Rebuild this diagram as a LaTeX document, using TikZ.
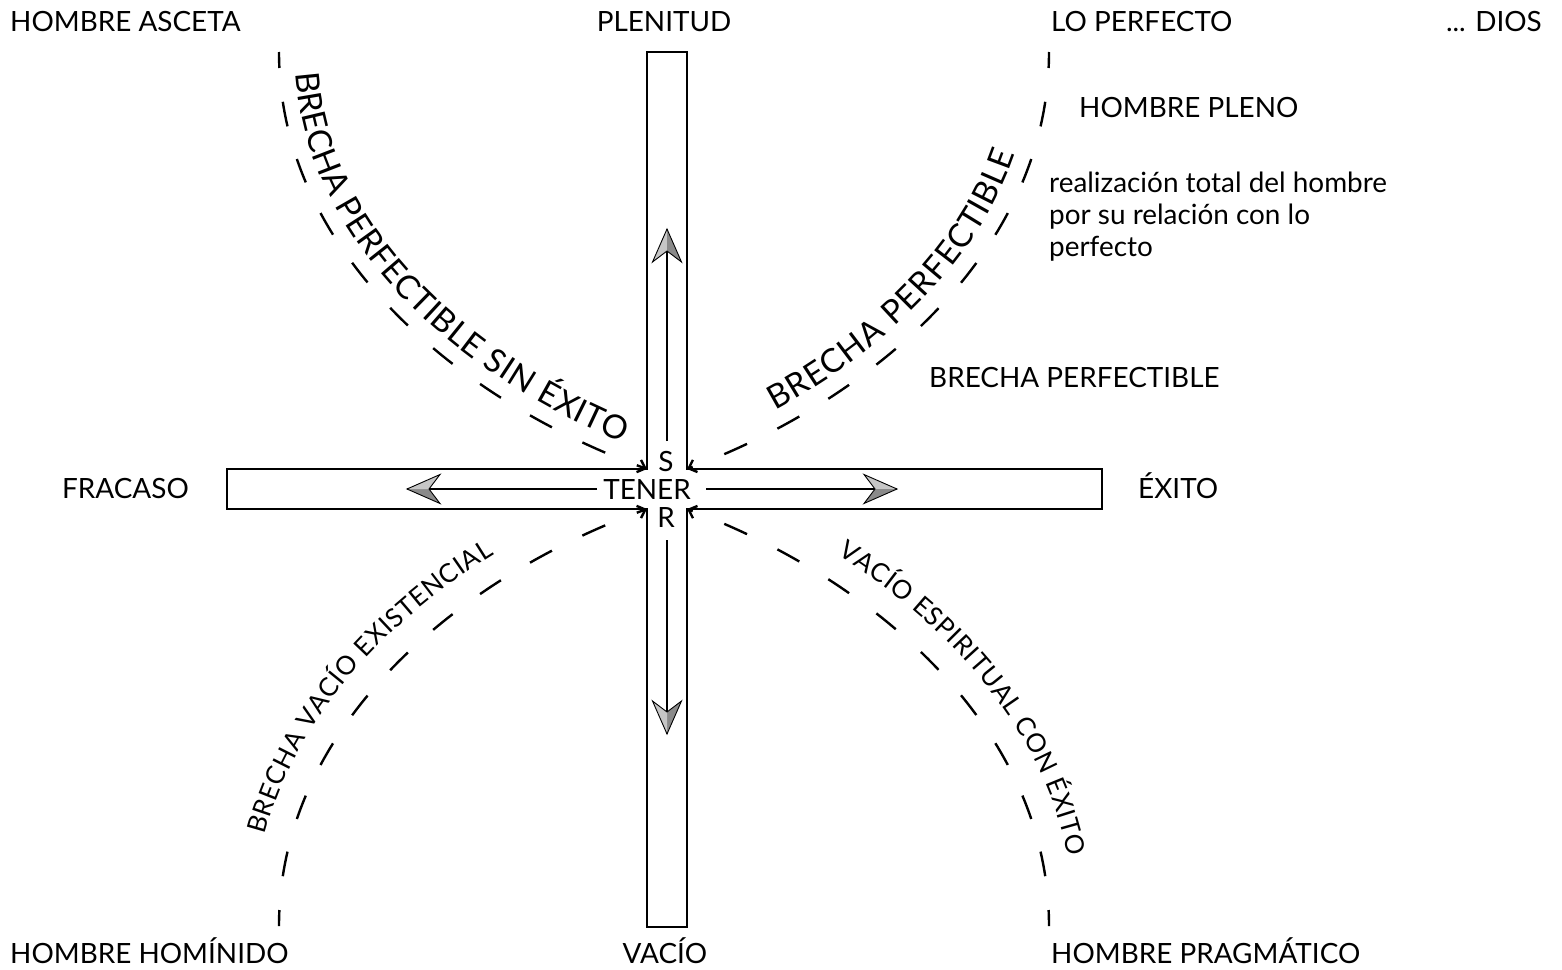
\documentclass[tikz,border=0pt]{standalone}
\usepackage{fontspec}
\setmainfont{Lato}
\usetikzlibrary{arrows.meta,decorations.text}
\definecolor{lg}{HTML}{C6C6C6}
\definecolor{dg}{HTML}{8A8A8A}
\newcommand\lblfont{\fontsize{28}{32}\selectfont}
\newcommand\ctopfont{\fontsize{33}{33}\selectfont}
\newcommand\cbotfont{\fontsize{26}{26}\selectfont}
\tikzset{
  pics/garrow/.style 2 args={code={
    \fill[#1] (0,0) -- (-33,-14.5) -- (-22,0) -- cycle;
    \fill[#2] (0,0) -- (-22,0) -- (-33,14.5) -- cycle;
    \draw[line width=0.9bp, line join=miter] (0,0) -- (-33,-14.5) -- (-22,0) -- (-33,14.5) -- cycle;
  }}
}
\begin{document}
\begin{tikzpicture}[x=1bp,y=-1bp,
  lbl/.style={font=\lblfont, inner sep=0pt, anchor=base west},
  crossline/.style={line width=2.8bp, line join=miter},
  shaft/.style={line width=2bp},
  gapline/.style={line width=2.4bp, dash pattern=on 25bp off 34bp, dash phase=9bp,
    -{Straight Barb[length=7bp,width=13bp]}},
]
\useasboundingbox (0,0) rectangle (1562,969);

% cross outline
\draw[crossline] (647,52) -- (687,52) -- (687,469) -- (1102,469) -- (1102,509)
  -- (687,509) -- (687,927) -- (647,927) -- (647,509) -- (227,509) -- (227,469)
  -- (647,469) -- cycle;

% centre labels
\node[font=\lblfont, inner sep=0pt] (tener) at (647,489) {TENER};
\node[font=\lblfont, inner sep=0pt] (s) at (666,461) {S};
\node[font=\lblfont, inner sep=0pt] (r) at (666,517) {R};

% arrow ends
\coordinate (hl) at (597,489);
\coordinate (hr) at (706,489);
\coordinate (vu) at (667,441);
\coordinate (vd) at (667,540);
\coordinate (lt) at (407,489);
\coordinate (rt) at (897,489);
\coordinate (ut) at (667,229);
\coordinate (dt) at (667,734);

\draw[shaft] (hl) -- (lt);
\draw[shaft] (hr) -- (rt);
\draw[shaft] (vu) -- (ut);
\draw[shaft] (vd) -- (dt);
\pic[rotate=180] at (lt) {garrow={dg}{lg}};
\pic at (rt) {garrow={lg}{dg}};
\pic[rotate=90] at (ut) {garrow={lg}{dg}};
\pic[rotate=-90] at (dt) {garrow={dg}{lg}};

% dashed gap curves
\coordinate (tlA) at (279,52);  \coordinate (tlB) at (647,469);
\coordinate (trA) at (687,469); \coordinate (trB) at (1049,52);
\coordinate (blA) at (279,926); \coordinate (blB) at (647,509);
\coordinate (brA) at (687,509); \coordinate (brB) at (1049,926);

\draw[gapline] (tlA) .. controls (279,252) and (459,401) .. (tlB);
\draw[gapline] (trB) .. controls (1049,252) and (870,401) .. (trA);
\draw[gapline] (blA) .. controls (279,726) and (459,577) .. (blB);
\draw[gapline] (brB) .. controls (1049,726) and (870,577) .. (brA);

% baselines of the lower curved texts (outside the gap curves)
\coordinate (blTa) at (253,926); \coordinate (blTb) at (638,485);
\coordinate (brTa) at (696,485); \coordinate (brTb) at (1075,926);

% curved texts
\path[decorate, decoration={text along path, raise=16bp,
   text align={left indent=23bp, right indent=33bp, fit to path},
   text={|\ctopfont|BRECHA PERFECTIBLE SIN ÉXITO}}]
   (tlA) .. controls (279,252) and (459,401) .. (tlB);
\path[decorate, decoration={text along path, raise=17bp,
   text align={left indent=106bp, right indent=110bp, fit to path},
   text={|\ctopfont|BRECHA PERFECTIBLE}}]
   (trA) .. controls (870,401) and (1049,252) .. (trB);
\path[decorate, decoration={text along path,
   text align={left indent=92bp, right indent=160bp, fit to path},
   text={|\cbotfont|BRECHA VACÍO EXISTENCIAL}}]
   (blTa) .. controls (253,714) and (439,557) .. (blTb);
\path[decorate, decoration={text along path,
   text align={left indent=158bp, right indent=70bp, fit to path},
   text={|\cbotfont|VACÍO ESPIRITUAL CON ÉXITO}}]
   (brTa) .. controls (890,557) and (1075,714) .. (brTb);

% outer labels
\node[lbl] (asceta) at (10,31) {HOMBRE ASCETA};
\node[lbl, anchor=base] (plenitud) at (664,31) {PLENITUD};
\node[lbl] (perfecto) at (1051,31) {LO PERFECTO};
\node[lbl, anchor=base east] (dios) at (1542,31) {... DIOS};
\node[lbl] (pleno) at (1079,117) {HOMBRE PLENO};
\node[lbl, anchor=north west, align=left] (realiz) at (1049,172)
  {realización total del hombre\\por su relación con lo\\perfecto};
\node[lbl] (brecha) at (929,387) {BRECHA PERFECTIBLE};
\node[lbl] (fracaso) at (62,498) {FRACASO};
\node[lbl] (exito) at (1138,498) {ÉXITO};
\node[lbl] (hominido) at (10,963) {HOMBRE HOMÍNIDO};
\node[lbl, anchor=base] (vacio) at (665,963) {VACÍO};
\node[lbl] (pragmatico) at (1051,963) {HOMBRE PRAGMÁTICO};
\end{tikzpicture}
\end{document}
